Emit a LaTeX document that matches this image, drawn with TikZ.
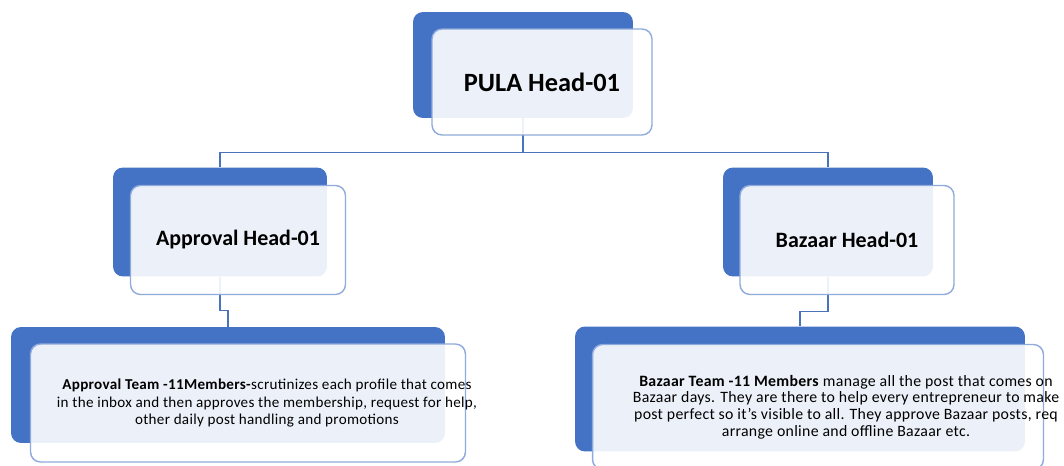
\documentclass[tikz,border=0pt]{standalone}
\usepackage{fontspec}
\setmainfont{Carlito}
\usetikzlibrary{positioning}

\definecolor{orgblue}{HTML}{4472C4}
\definecolor{orgedge}{HTML}{8FAADC}
\definecolor{orgline}{HTML}{4A73BE}

\begin{document}
\begin{tikzpicture}[x=0.02cm,y=-0.02cm]
  \tikzset{
    backbox/.style={
      fill=orgblue,
      rounded corners=0.2cm,
      inner sep=0pt,
    },
    frontbox/.style={
      draw=orgedge,
      line width=0.8pt,
      fill=white,
      fill opacity=0.9,
      text opacity=1,
      rounded corners=0.2cm,
      inner sep=0pt,
      on grid,
    },
    headtext/.style={font=\bfseries\fontsize{12.5}{15}\selectfont},
    teamtext/.style={align=center, inner sep=0pt, on grid,
      font=\fontsize{8.6}{10.2}\selectfont\addfontfeature{LetterSpace=2}},
    link/.style={draw=orgline, line width=0.7pt},
  }
  \useasboundingbox (0,0) rectangle (1064,466);

  % blue back plates
  \node[backbox, minimum width=4.4cm, minimum height=2.12cm] (pula) at (523,65) {};
  \node[backbox, minimum width=4.28cm, minimum height=2.18cm] (aphead) at (220,222) {};
  \node[backbox, minimum width=4.2cm, minimum height=2.18cm] (bzhead) at (828,222) {};
  \node[backbox, minimum width=8.68cm, minimum height=2.32cm] (apteam) at (228,385) {};
  \node[backbox, minimum width=9cm, minimum height=2.5cm] (bzteam) at (800,389) {};

  % connectors
  \coordinate (hub) at ([yshift=-0.68cm]pula.south);
  \draw[link] (pula.south) -- (hub);
  \draw[link] (hub) -| (aphead.north);
  \draw[link] (hub) -| (bzhead.north);
  \draw[link] (aphead.south) -- ++(0,34) -| (apteam.north);
  \draw[link] (bzhead.south) -- ++(0,35) -| (bzteam.north);

  % light front cards
  \node[frontbox, headtext, minimum width=4.4cm, minimum height=2.12cm,
    below right=0.34cm and 0.38cm of pula] (pulafront) {\fontsize{15}{18}\selectfont PULA Head-01};
  \node[frontbox, headtext, minimum width=4.3cm, minimum height=2.18cm,
    below right=0.36cm and 0.36cm of aphead] (apheadfront) {Approval Head-01};
  \node[frontbox, headtext, minimum width=4.28cm, minimum height=2.18cm,
    below right=0.36cm and 0.38cm of bzhead] (bzheadfront) {Bazaar Head-01};
  \node[frontbox, minimum width=8.7cm, minimum height=2.36cm,
    below right=0.36cm and 0.4cm of apteam] (apteamfront) {};
  \node[frontbox, minimum width=9.02cm, minimum height=2.5cm,
    below right=0.36cm and 0.36cm of bzteam] (bzteamfront) {};

  \node[teamtext, right=0.38cm of apteamfront] (apteamtext)
    {\textbf{Approval Team -11Members-}scrutinizes each profile that comes\\
     in the inbox and then approves the membership, request for help,\\
     other daily post handling and promotions};
  \node[teamtext, font=\fontsize{9}{9.5}\selectfont\addfontfeature{LetterSpace=2},
    right=0.56cm of bzteamfront] (bzteamtext)
    {\textbf{Bazaar Team -11 Members} manage all the post that comes on\\
     Bazaar days. They are there to help every entrepreneur to make\\
     post perfect so it's visible to all. They approve Bazaar posts, req\\
     arrange online and offline Bazaar etc.};
\end{tikzpicture}
\end{document}
